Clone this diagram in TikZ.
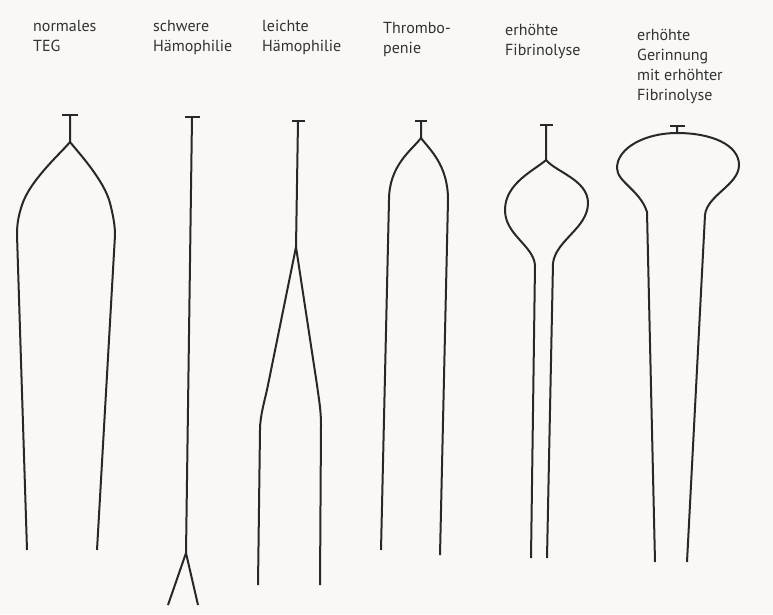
\documentclass[tikz,border=0pt]{standalone}
\usepackage{fontspec}
\setmainfont{PT Sans}
\usepackage{xcolor}
\usepackage{tikz}
\definecolor{mypaper}{RGB}{249,248,246}
\definecolor{myink}{RGB}{40,40,40}
\definecolor{mytext}{RGB}{50,50,50}
\tikzset{
  lbl/.style={anchor=north west, inner sep=0pt, align=left, text=mytext,
    font=\fontsize{16}{20}\selectfont},
  trace/.style={draw=myink, line width=2pt, line join=round},
  tbar/.style={draw=myink, line width=2pt}
}
\begin{document}
\begin{tikzpicture}[x=1pt, y=-1pt]
  \fill [mypaper] (0,0) rectangle (773,614);
  \useasboundingbox (0,0) rectangle (773,614);

  \node [lbl] (normal) at (33,20) {normales\\TEG};
  \node [lbl] (schwer) at (153,20) {schwere\\Hämophilie};
  \node [lbl] (leicht) at (262,20) {leichte\\Hämophilie};
  \node [lbl] (thrombo) at (383,22) {Thrombo-\\penie};
  \node [lbl] (fibrino) at (505,24) {erhöhte\\Fibrinolyse};
  \node [lbl] (gerinn) at (637,29) {erhöhte\\Gerinnung\\mit erhöhter\\Fibrinolyse};

  % normales TEG
  \draw [tbar] (62,115) -- (78,115);
  \draw [trace] (70,115) -- (70,142)
    .. controls (62,152) and (30,180) .. (22,205)
    .. controls (18,217) and (17,225) .. (17,235) -- (27,550);
  \draw [trace] (70,142) .. controls (78,152) and (104,180) .. (110,203)
    .. controls (113,215) and (115,225) .. (115,235) -- (97,550);

  % schwere Haemophilie
  \draw [tbar] (185,117) -- (200,117);
  \draw [trace] (192,117) -- (186,553) -- (168,605);
  \draw [trace] (186,553) -- (198,605);

  % leichte Haemophilie
  \draw [tbar] (292,121) -- (305,121);
  \draw [trace] (298,121) -- (296,247) -- (268,385)
    .. controls (265,400) and (260,415) .. (260,430) -- (258,585);
  \draw [trace] (296,247) -- (317,385)
    .. controls (319,400) and (321,410) .. (321,425) -- (320,585);

  % Thrombopenie
  \draw [tbar] (415,121) -- (427,121);
  \draw [trace] (421,121) -- (421,138)
    .. controls (412,150) and (389,165) .. (389,200) -- (381,550);
  \draw [trace] (421,138) .. controls (430,150) and (448,165) .. (448,200)
    -- (440,555);

  % erhoehte Fibrinolyse
  \draw [tbar] (540,125) -- (553,125);
  \draw [trace] (546,125) -- (546,160)
    .. controls (535,170) and (505,183) .. (505,210)
    .. controls (505,235) and (533,245) .. (535,265) -- (531,558);
  \draw [trace] (546,160) .. controls (556,172) and (588,180) .. (588,203)
    .. controls (588,228) and (556,240) .. (553,263) -- (547,558);

  % erhoehte Gerinnung mit erhoehter Fibrinolyse
  \draw [tbar] (670,126) -- (685,126);
  \draw [trace] (677,126) -- (677,133)
    .. controls (645,133) and (617,148) .. (617,168)
    .. controls (617,182) and (640,190) .. (647,212) -- (655,562);
  \draw [trace] (677,133) .. controls (712,133) and (739,145) .. (739,165)
    .. controls (739,185) and (707,195) .. (705,215) -- (687,562);
\end{tikzpicture}
\end{document}
